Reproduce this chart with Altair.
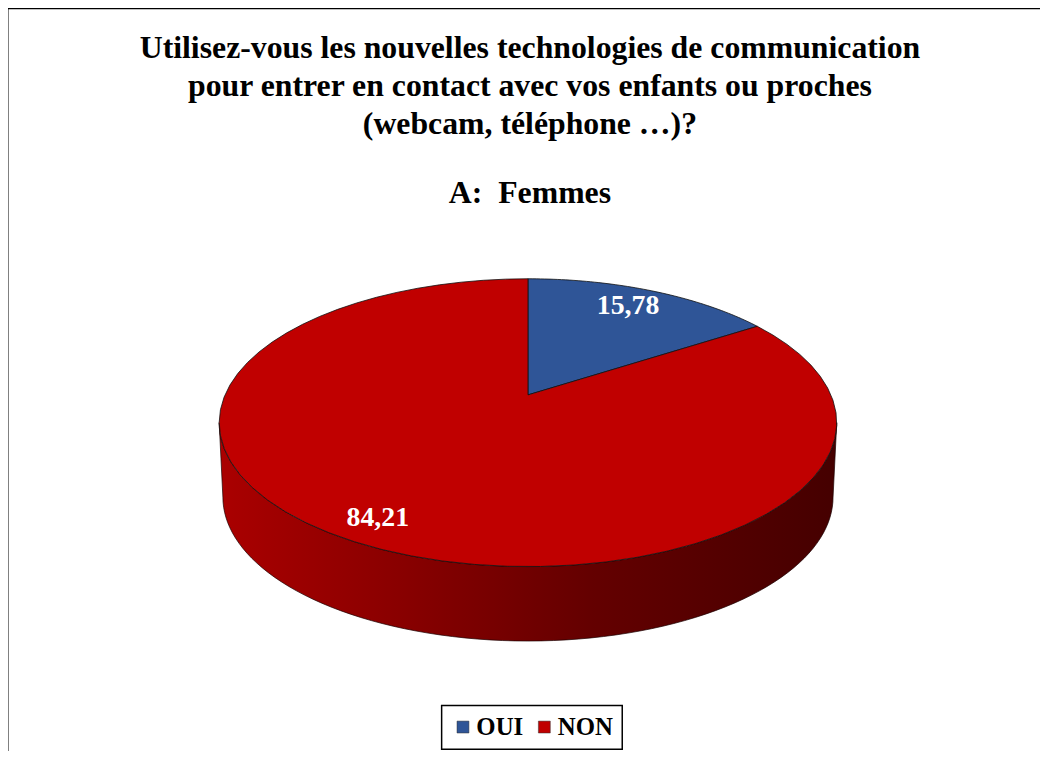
import altair as alt
import pandas as pd

# ---- data ----
cats = ["OUI", "NON"]
vals = [15.78, 84.21]
colors = ["#2F5597", "#C00000"]

title_lines = [
    "Utilisez-vous les nouvelles technologies de communication",
    "pour entrer en contact avec vos enfants ou proches",
    "(webcam, téléphone …)?",
]
subtitle = "A:\u00a0\u00a0Femmes"

# ---- layout constants (pixels) ----
W, H = 1030, 739
CX, AY = 522, 383          # pie apex on screen
A, B, D = 722.5, 1580, 5.175  # perspective projection parameters
DEPTH = 75
SHRINK = 0.988
K = 60
N = 80
R = 0.85
FONT = "Liberation Serif"

df = pd.DataFrame({"cat": cats, "val": vals, "idx": list(range(len(cats)))})

xs = alt.Scale(domain=[0, W], nice=False, zero=False)
ys = alt.Scale(domain=[0, H], nice=False, zero=False, reverse=True)

base = (
    alt.Chart(df)
    .transform_window(cum="sum(val)", sort=[alt.SortField("idx")])
    .transform_joinaggregate(total="sum(val)")
    .transform_calculate(start="datum.cum - datum.val")
)

# 3D side (front rim)
side_grad = alt.LinearGradient(
    gradient="linear",
    stops=[
        alt.GradientStop(color="#AA0000", offset=0),
        alt.GradientStop(color="#880000", offset=0.3),
        alt.GradientStop(color="#640000", offset=0.6),
        alt.GradientStop(color="#450000", offset=1),
    ],
    x1=0, x2=1, y1=0, y2=0,
)
side = (
    alt.Chart(alt.sequence(0, 2 * N + 3, as_="i"))
    .transform_calculate(
        a0=f"acos(-1 / {D})",
        bot=f"datum.i > {N} && datum.i <= {2 * N + 1}",
        s=f"datum.i <= {N} ? datum.i : (datum.i <= {2 * N + 1} ? {2 * N + 1} - datum.i : 0)",
    )
    .transform_calculate(a=f"datum.a0 + (2 * PI - 2 * datum.a0) * datum.s / {N}")
    .transform_calculate(
        px=f"{CX} + (datum.bot ? {SHRINK} : 1) * {B} * sin(datum.a) / ({D} + cos(datum.a))",
        py=f"{AY} - {A} * cos(datum.a) / ({D} + cos(datum.a)) + (datum.bot ? {DEPTH} : 0)",
    )
    .mark_line(fill=side_grad, stroke="#1a0000", strokeWidth=0.7)
    .encode(
        x=alt.X("px:Q", scale=xs, axis=None),
        y=alt.Y("py:Q", scale=ys, axis=None),
        order="i:Q",
    )
)

slices = (
    base.transform_calculate(k=f"sequence(0, {K + 3})")
    .transform_flatten(["k"])
    .transform_calculate(
        t=f"clamp((datum.k - 1) / {K}, 0, 1)",
        apex=f"datum.k == 0 || datum.k == {K + 2}",
    )
    .transform_calculate(ang="2 * PI * (datum.start + datum.val * datum.t) / datum.total")
    .transform_calculate(
        px=f"datum.apex ? {CX} : {CX} + {B} * sin(datum.ang) / ({D} + cos(datum.ang))",
        py=f"datum.apex ? {AY} : {AY} - {A} * cos(datum.ang) / ({D} + cos(datum.ang))",
    )
    .mark_line(stroke="#111111", strokeWidth=0.8)
    .encode(
        x=alt.X("px:Q", scale=xs, axis=None),
        y=alt.Y("py:Q", scale=ys, axis=None),
        order="k:Q",
        detail="cat:N",
        fill=alt.Fill(
            "cat:N",
            scale=alt.Scale(domain=cats, range=colors),
            legend=alt.Legend(
                orient="none", legendX=435, legendY=696, direction="horizontal",
                title=None, symbolType="square", symbolSize=144,
                symbolStrokeColor="#333333", symbolStrokeWidth=0.5,
                labelFont=FONT, labelFontSize=25, labelFontWeight="bold",
                labelColor="black", strokeColor="black", padding=9,
                columnPadding=8, labelOffset=1,
            ),
        ),
    )
)

labels = (
    base.transform_calculate(mid="2 * PI * (datum.start + datum.val / 2) / datum.total")
    .transform_calculate(
        px=f"{CX} + {B} * {R} * sin(datum.mid) / ({D} + {R} * cos(datum.mid))",
        py=f"{AY} - {A} * {R} * cos(datum.mid) / ({D} + {R} * cos(datum.mid))",
        lab="replace(format(datum.val, '.2f'), '.', ',')",
    )
    .mark_text(font=FONT, fontSize=28, fontWeight="bold", color="white", dx=-7, dy=2)
    .encode(
        x=alt.X("px:Q", scale=xs, axis=None),
        y=alt.Y("py:Q", scale=ys, axis=None),
        text="lab:N",
    )
)

one = pd.DataFrame({"z": [0]})
border_left = alt.Chart(one).mark_rule(color="black", strokeWidth=2).encode(
    x=alt.value(-2.5), y=alt.value(-7), y2=alt.value(H + 4)
)
border_top = alt.Chart(one).mark_rule(color="black", strokeWidth=2).encode(
    x=alt.value(-3.5), x2=alt.value(W + 8), y=alt.value(-6.5)
)

chart = (
    alt.layer(side, slices, labels, border_left, border_top)
    .properties(
        width=W,
        height=H,
        autosize="none",
        padding={"left": 2, "top": 4, "right": 8, "bottom": 0},
        background="white",
        title=alt.TitleParams(
            text=title_lines, subtitle=subtitle, font=FONT, fontSize=32,
            fontWeight="bold", color="black", lineHeight=38,
            subtitleFont=FONT, subtitleFontSize=32, subtitleFontWeight="bold",
            subtitleColor="black", subtitlePadding=38, anchor="middle",
            offset=-205, frame="group", dx=9,
        ),
    )
    .configure_view(stroke=None)
    .configure_legend(strokeWidth=1.5)
)

chart.save("out.html", embed_options={"renderer": "svg", "actions": False})
